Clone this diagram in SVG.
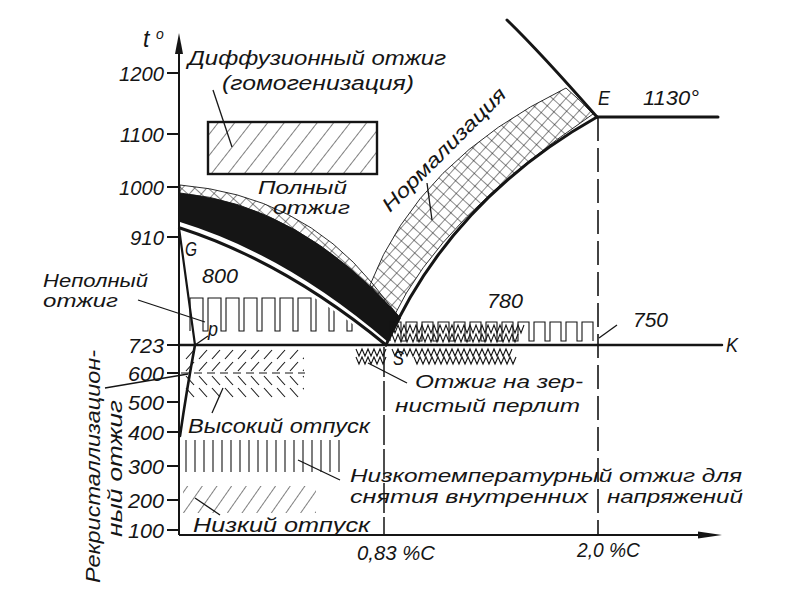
<svg xmlns="http://www.w3.org/2000/svg" width="787" height="593" viewBox="0 0 787 593">
<defs>
<style>
.t{font-family:"Liberation Sans","DejaVu Sans",sans-serif;font-style:italic;font-size:20px;fill:#151515}
.s{font-size:17.5px}
.n{font-family:"Liberation Sans","DejaVu Sans",sans-serif;font-style:italic;font-size:21px;fill:#151515}
.thick{stroke:#151515;stroke-width:3;fill:none;stroke-linecap:round}
.ax{stroke:#151515;stroke-width:2;fill:none}
.lead{stroke:#151515;stroke-width:1.3;fill:none}
.thin{stroke:#151515;stroke-width:1.1;fill:none}
.dash{stroke:#151515;stroke-width:1.6;fill:none;stroke-dasharray:24 7}
.dash2{stroke:#151515;stroke-width:1.5;fill:none;stroke-dasharray:30 4}
</style>
<pattern id="diag" width="13" height="13" patternUnits="userSpaceOnUse" patternTransform="rotate(38)">
<line x1="0" y1="0" x2="0" y2="13" stroke="#151515" stroke-width="1.1"/>
</pattern>
<pattern id="diag2" width="12" height="12" patternUnits="userSpaceOnUse" patternTransform="rotate(35)">
<line x1="0" y1="0" x2="0" y2="12" stroke="#151515" stroke-width="1.1"/>
</pattern>
<pattern id="cross" width="9" height="9" patternUnits="userSpaceOnUse" patternTransform="rotate(42)">
<path d="M0,0H9M0,0V9" stroke="#151515" stroke-width="1" fill="none"/>
</pattern>
<pattern id="slashUp" x="184" y="348" width="13" height="12" patternUnits="userSpaceOnUse">
<path d="M2,11L10,2" stroke="#151515" stroke-width="1.1" fill="none"/>
</pattern>
<pattern id="slashDn" x="184" y="374" width="13" height="12" patternUnits="userSpaceOnUse">
<path d="M2,2L10,11" stroke="#151515" stroke-width="1.1" fill="none"/>
</pattern>
<clipPath id="belowGS">
<path d="M176,233 Q285,267 386,350 L176,350 Z"/>
</clipPath>
</defs>
<rect width="787" height="593" fill="#ffffff"/>

<g id="axes">
<path class="ax" d="M179,535 V50"/>
<polygon points="179,33 175,54 183,54" fill="#151515"/>
<path class="ax" d="M179,535 H705"/>
<polygon points="722,535 698,531.5 698,538.5" fill="#151515"/>
<path class="ax" d="M167,73H179M167,134H179M167,187H179M167,237H179M167,345H179M167,373H179M167,402H179M167,432H179M167,466H179M167,500H179M167,530H179"/>
<text class="n" x="164" y="81" text-anchor="end" textLength="45" lengthAdjust="spacingAndGlyphs">1200</text>
<text class="n" x="164" y="142" text-anchor="end" textLength="44" lengthAdjust="spacingAndGlyphs">1100</text>
<text class="n" x="164" y="195" text-anchor="end" textLength="45" lengthAdjust="spacingAndGlyphs">1000</text>
<text class="n" x="164" y="245" text-anchor="end" textLength="34" lengthAdjust="spacingAndGlyphs">910</text>
<text class="n" x="164" y="353" text-anchor="end" textLength="36" lengthAdjust="spacingAndGlyphs">723</text>
<text class="n" x="164" y="381" text-anchor="end" textLength="36" lengthAdjust="spacingAndGlyphs">600</text>
<text class="n" x="164" y="410" text-anchor="end" textLength="36" lengthAdjust="spacingAndGlyphs">500</text>
<text class="n" x="164" y="440" text-anchor="end" textLength="36" lengthAdjust="spacingAndGlyphs">400</text>
<text class="n" x="164" y="474" text-anchor="end" textLength="36" lengthAdjust="spacingAndGlyphs">300</text>
<text class="n" x="164" y="508" text-anchor="end" textLength="36" lengthAdjust="spacingAndGlyphs">200</text>
<text class="n" x="164" y="538" text-anchor="end" textLength="36" lengthAdjust="spacingAndGlyphs">100</text>
<text class="t" x="143" y="47" style="font-size:23px">t</text>
<text class="t" x="156" y="39" style="font-size:14px">o</text>
<text class="t" x="357" y="560" textLength="78" lengthAdjust="spacingAndGlyphs">0,83 %C</text>
<text class="t" x="577" y="557" textLength="63" lengthAdjust="spacingAndGlyphs">2,0 %C</text>
</g>

<g id="normalization">
<path d="M370,285 Q418,160 566,88 Q580,100 593,114 Q440,218 393,318 Z" fill="url(#cross)" stroke="#151515" stroke-width="0.9"/>
<path d="M180,185 Q300,195 372,283 L400,318 Q300,204 180,193 Z" fill="url(#cross)" stroke="#151515" stroke-width="0.9"/>
<text class="t" transform="translate(390,213) rotate(-45)" textLength="166" lengthAdjust="spacingAndGlyphs">Нормализация</text>
<path class="lead" d="M427,183 L432,220"/>
</g>

<g id="full-annealing">
<path d="M180,193 Q300,204 401,318 L388,342 Q287,255 180,222 Z" fill="#151515"/>
<text class="t s" x="258" y="194" textLength="89" lengthAdjust="spacingAndGlyphs">Полный</text>
<text class="t s" x="273" y="214" textLength="77" lengthAdjust="spacingAndGlyphs">отжиг</text>
</g>

<g id="diffusion">
<rect x="208" y="122" width="169" height="52" fill="url(#diag)" stroke="#151515" stroke-width="2.4"/>
<text class="t" x="188" y="65" textLength="258" lengthAdjust="spacingAndGlyphs">Диффузионный отжиг</text>
<text class="t" x="222" y="90" textLength="192" lengthAdjust="spacingAndGlyphs">(гомогенизация)</text>
<path class="lead" d="M213,90 L232,147"/>
</g>

<g id="incomplete-annealing">
<path clip-path="url(#belowGS)" class="thin" d="M190,331v-33h13v33h5v-33h13v33h5v-33h13v33h5v-33h13v33h5v-33h13v33h5v-33h13v33h5v-33h13v33h5v-33h13v33h5v-33h13v33h5v-33h13v33h5v-33h13v33h5"/>
<path class="thin" d="M390,341v-19h11v19h5v-19h11v19h5v-19h11v19h5v-19h11v19h5v-19h11v19h5v-19h11v19h5v-19h11v19h5v-19h11v19h5v-19h11v19h5v-19h11v19h5v-19h11v19h5v-19h11v19h5v-19h11v19"/>
<text class="t s" x="43" y="287" textLength="105" lengthAdjust="spacingAndGlyphs">Неполный</text>
<text class="t s" x="43" y="307" textLength="75" lengthAdjust="spacingAndGlyphs">отжиг</text>
<path class="lead" d="M138,300 L205,322"/>
<text class="t" x="202" y="283" textLength="36" lengthAdjust="spacingAndGlyphs">800</text>
<text class="t" x="487" y="308" textLength="36" lengthAdjust="spacingAndGlyphs">780</text>
<text class="t" x="633" y="327" textLength="35" lengthAdjust="spacingAndGlyphs">750</text>
<path class="lead" d="M599,338 L617,325"/>
</g>

<g id="spheroidizing">
<path class="thin" d="M392,325l3,8l3,-8l3,8l3,-8l3,8l3,-8l3,8l3,-8l3,8l3,-8l3,8l3,-8l3,8l3,-8l3,8l3,-8l3,8l3,-8l3,8l3,-8l3,8l3,-8l3,8l3,-8l3,8l3,-8l3,8l3,-8l3,8l3,-8l3,8l3,-8l3,8l3,-8l3,8l3,-8l3,8l3,-8l3,8l3,-8l3,8l3,-8l3,8l3,-8"/>
<path class="thin" d="M392,334l3,8l3,-8l3,8l3,-8l3,8l3,-8l3,8l3,-8l3,8l3,-8l3,8l3,-8l3,8l3,-8l3,8l3,-8l3,8l3,-8l3,8l3,-8l3,8l3,-8l3,8l3,-8l3,8l3,-8l3,8l3,-8l3,8l3,-8l3,8l3,-8l3,8l3,-8l3,8l3,-8l3,8l3,-8l3,8l3,-8l3,8l3,-8"/>
<path class="thin" d="M356,349l3,7l3,-7l3,7l3,-7l3,7l3,-7l3,7l3,-7l3,7l3,-7M392,349l3,7l3,-7l3,7l3,-7l3,7l3,-7l3,7l3,-7l3,7l3,-7l3,7l3,-7l3,7l3,-7l3,7l3,-7l3,7l3,-7l3,7l3,-7l3,7l3,-7l3,7l3,-7l3,7l3,-7l3,7l3,-7l3,7l3,-7l3,7l3,-7l3,7l3,-7l3,7l3,-7l3,7l3,-7l3,7l3,-7"/>
<path class="thin" d="M356,357l3,7l3,-7l3,7l3,-7l3,7l3,-7l3,7l3,-7l3,7l3,-7M414,357l3,7l3,-7l3,7l3,-7l3,7l3,-7l3,7l3,-7l3,7l3,-7l3,7l3,-7l3,7l3,-7l3,7l3,-7l3,7l3,-7l3,7l3,-7l3,7l3,-7l3,7l3,-7l3,7l3,-7l3,7l3,-7l3,7l3,-7l3,7l3,-7l3,7l3,-7"/>
<text class="t" x="393" y="365" textLength="11" lengthAdjust="spacingAndGlyphs">S</text>
<path class="lead" d="M368,363 L407,383"/>
<text class="t s" x="415" y="388" textLength="168" lengthAdjust="spacingAndGlyphs">Отжиг на зер-</text>
<text class="t s" x="395" y="412" textLength="185" lengthAdjust="spacingAndGlyphs">нистый перлит</text>
</g>

<g id="high-tempering">
<rect x="184" y="348" width="120" height="24" fill="url(#slashUp)"/>
<rect x="184" y="374" width="120" height="24" fill="url(#slashDn)"/>
<path class="thin" d="M181,373 H305" stroke-dasharray="8 5"/>
<path class="lead" d="M212,413 L223,388"/>
<text class="t" x="188" y="433" textLength="182" lengthAdjust="spacingAndGlyphs">Высокий отпуск</text>
</g>

<g id="stress-relief">
<path class="thin" d="M186,440V472M195,440V472M204,440V472M213,440V472M222,440V472M231,440V472M240,440V472M249,440V472M258,440V472M267,440V472M276,440V472M285,440V472M294,440V472M303,440V472M312,440V472M321,440V472M330,440V472M339,440V472"/>
<path class="lead" d="M298,460 L340,480"/>
<text class="t s" x="350" y="482" textLength="392" lengthAdjust="spacingAndGlyphs">Низкотемпературный отжиг для</text>
<text class="t s" x="350" y="503" textLength="238" lengthAdjust="spacingAndGlyphs">снятия внутренних</text>
<text class="t s" x="607" y="503" textLength="136" lengthAdjust="spacingAndGlyphs">напряжений</text>
</g>

<g id="low-tempering">
<rect x="183" y="486" width="133" height="27" fill="url(#diag2)"/>
<path class="lead" d="M195,498 L220,515"/>
<text class="t" x="193" y="532" textLength="177" lengthAdjust="spacingAndGlyphs">Низкий отпуск</text>
</g>

<g id="recrystallization">
<text class="t" transform="translate(100,583) rotate(-90)" textLength="233" lengthAdjust="spacingAndGlyphs">Рекристаллизацион-</text>
<text class="t" transform="translate(122,537) rotate(-90)" textLength="137" lengthAdjust="spacingAndGlyphs">ный отжиг</text>
<path class="lead" d="M105,388 L188,374"/>
</g>

<g id="connectors">
<path class="thick" d="M180,228 Q285,262 386,345"/>
<path class="thick" d="M386,345 Q450,200 597,117"/>
<path class="thick" d="M507,20 Q540,52 597,117"/>
<path class="thick" d="M597,117 H718"/>
<path class="thick" d="M179,345 H722" style="stroke-width:2.5"/>
<path class="thick" d="M179,228 L195,345" style="stroke-width:2.2"/>
<path class="thick" d="M195,345 Q187,388 180,436" style="stroke-width:2.6"/>
<path class="dash" d="M598,117 V535"/>
<path class="dash2" d="M384,347 V535"/>
<path class="lead" d="M195,345 L208,336"/>
</g>

<g id="point-labels">
<text class="t" x="185" y="256" textLength="12" lengthAdjust="spacingAndGlyphs">G</text>
<text class="t" x="208" y="336" textLength="10" lengthAdjust="spacingAndGlyphs">p</text>
<text class="t" x="598" y="105" textLength="12" lengthAdjust="spacingAndGlyphs">E</text>
<text class="t" x="643" y="105" textLength="56" lengthAdjust="spacingAndGlyphs">1130°</text>
<text class="t" x="726" y="352" textLength="12" lengthAdjust="spacingAndGlyphs">K</text>
</g>
</svg>
